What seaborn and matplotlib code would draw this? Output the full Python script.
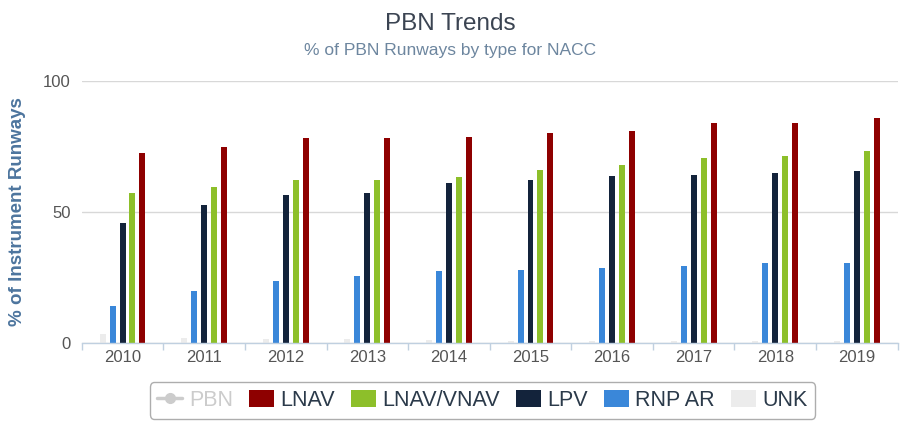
import matplotlib
matplotlib.use("Agg")
import matplotlib.pyplot as plt
import seaborn as sns
import pandas as pd
import numpy as np
from matplotlib.patches import Patch
from matplotlib.lines import Line2D

years = ["2010", "2011", "2012", "2013", "2014", "2015", "2016", "2017", "2018", "2019"]
lnav = [72.3, 74.9, 78.1, 78.1, 78.7, 80.0, 80.7, 83.8, 83.8, 85.7]
lnav_vnav = [57.1, 59.6, 62.2, 62.2, 63.5, 66.1, 68.0, 70.6, 71.2, 73.1]
lpv = [45.8, 52.8, 56.6, 57.2, 61.0, 62.3, 63.6, 64.2, 64.9, 65.5]
rnp_ar = [14.2, 19.9, 23.7, 25.5, 27.4, 28.0, 28.7, 29.3, 30.7, 30.7]
unk = [3.5, 2.0, 1.5, 1.5, 1.2, 1.0, 0.8, 0.8, 0.8, 0.8]

series = {"UNK": unk, "RNP AR": rnp_ar, "LPV": lpv, "LNAV/VNAV": lnav_vnav, "LNAV": lnav}
colors = {"UNK": "#ececec", "RNP AR": "#3a87d9", "LPV": "#13233b",
          "LNAV/VNAV": "#8dbf2a", "LNAV": "#8e0000"}
hue_order = ["UNK", "RNP AR", "LPV", "LNAV/VNAV", "LNAV"]
legend_order = ["LNAV", "LNAV/VNAV", "LPV", "RNP AR", "UNK"]

rows = []
for name, vals in series.items():
    for y, v in zip(years, vals):
        rows.append({"year": y, "type": name, "value": v})
df = pd.DataFrame(rows)

sns.set_theme(style="white")
plt.rcParams["font.family"] = ["Liberation Sans", "DejaVu Sans"]

fig = plt.figure(figsize=(9.01, 4.24), dpi=100)
ax = fig.add_axes([0.0907, 0.1903, 0.9056, 0.6194])

sns.barplot(data=df, x="year", y="value", hue="type", hue_order=hue_order,
            palette=colors, width=0.61, gap=0.4, legend=False, ax=ax,
            saturation=1, linewidth=0, errorbar=None)

ax.set_ylim(0, 100)
ax.set_xlim(-0.5, len(years) - 0.5)
ax.set_yticks([0, 50, 100])
ax.yaxis.grid(True, color="#d8d8d8", linewidth=1)
ax.set_axisbelow(True)
for s in ["top", "right", "left"]:
    ax.spines[s].set_visible(False)
ax.spines["bottom"].set_color("#c0d0e0")
ax.spines["bottom"].set_linewidth(1)

ax.tick_params(axis="x", length=0, pad=5, labelsize=12, colors="#555555")
ax.tick_params(axis="y", length=0, pad=8, labelsize=12, colors="#555555")
ax.set_xticks(np.arange(-0.5, len(years) + 0.5, 1), minor=True)
ax.tick_params(axis="x", which="minor", length=5, width=1, color="#c0d0e0", bottom=True)

ax.set_xlabel("")
ax.set_ylabel("% of Instrument Runways", fontsize=13.5, fontweight="bold",
              color="#4d759e")
ax.yaxis.set_label_coords(-0.0685, 0.5)

fig.text(0.5, 1 - 30 / 424, "PBN Trends", ha="center", va="baseline",
         fontsize=17.5, color="#3b4452")
fig.text(0.5, 1 - 55 / 424, "% of PBN Runways by type for NACC", ha="center",
         va="baseline", fontsize=12.5, color="#6d869f")

handles = [Line2D([0], [0], color="#cccccc", marker="o", markersize=7, linewidth=2.5)]
labels = ["PBN"]
for n in legend_order:
    handles.append(Patch(facecolor=colors[n], edgecolor="none"))
    labels.append(n)
leg = fig.legend(handles, labels, loc="center", bbox_to_anchor=(0.5355, 0.0554), ncol=6,
                 frameon=True, fontsize=15.5, handlelength=1.16, handleheight=0.88,
                 columnspacing=0.74, handletextpad=0.3, borderpad=0.35,
                 fancybox=True, edgecolor="#999999")
leg.get_frame().set_linewidth(1)
for i, t in enumerate(leg.get_texts()):
    t.set_color("#cccccc" if i == 0 else "#2b3a4a")

fig.savefig("out.png", dpi=100, facecolor="white")
